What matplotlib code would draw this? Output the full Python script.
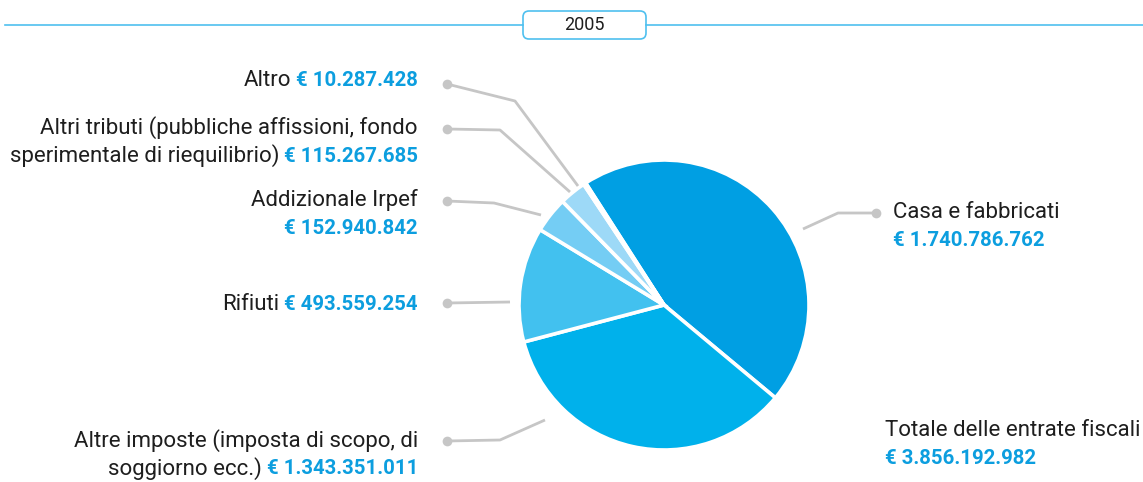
import matplotlib
matplotlib.use("Agg")
import matplotlib.pyplot as plt
from matplotlib.patches import FancyBboxPatch

# Entrate fiscali 2005 (euro)
categories = [
    "Casa e fabbricati",
    "Altre imposte (imposta di scopo, di soggiorno ecc.)",
    "Rifiuti",
    "Addizionale Irpef",
    "Altri tributi (pubbliche affissioni, fondo sperimentale di riequilibrio)",
    "Altro",
]
values = [1740786762, 1343351011, 493559254, 152940842, 115267685, 10287428]
year_label = "2005"
total_label = "Totale delle entrate fiscali"

slice_colors = ["#009FE3", "#00B1EB", "#42C1EF", "#74CDF4", "#9DD9F7", "#C8E9FA"]
value_color = "#0C9EDF"
text_color = "#1E1E1E"
leader_color = "#C6C6C6"
accent = "#4FC0EF"

W, H = 1143, 482


def fmt_euro(v):
    return "€ " + f"{v:,}".replace(",", ".")


def Y(py):
    # pixel rows counted from the top edge
    return H - py


plt.rcParams["font.family"] = ["Roboto", "DejaVu Sans"]

fig = plt.figure(figsize=(W / 100, H / 100), dpi=100)
ax = fig.add_axes([0, 0, 1, 1])

# header rule with year badge
ax.plot([5, 523], [Y(25), Y(25)], color=accent, lw=1.2)
ax.plot([646, W], [Y(25), Y(25)], color=accent, lw=1.2)
badge = FancyBboxPatch((523, Y(39)), 123, 28, boxstyle="round,pad=0,rounding_size=6",
                       fc="white", ec=accent, lw=1.2)
ax.add_patch(badge)
ax.text(584.5, Y(25), year_label, ha="center", va="center", fontsize=13,
        color=text_color)

# pie
start = 90 + 32.7
ax.pie(values, colors=slice_colors, startangle=start, counterclock=False,
       center=(664, Y(305)), radius=145, frame=True,
       wedgeprops=dict(edgecolor="white", linewidth=2.6))
ax.set_xlim(0, W)
ax.set_ylim(0, H)
ax.set_aspect("equal")
ax.axis("off")

fs = 16      # category text
fs_val = 14.7  # bold amounts

# leader lines: (dot, elbow, end) in pixel coordinates
leaders = {
    "Casa e fabbricati": [(876, 213), (838, 213), (803, 229)],
    "Altre imposte (imposta di scopo, di soggiorno ecc.)": [(447, 441), (500, 440), (545, 420)],
    "Rifiuti": [(447, 303), (510, 302)],
    "Addizionale Irpef": [(447, 201), (494, 203), (541, 215)],
    "Altri tributi (pubbliche affissioni, fondo sperimentale di riequilibrio)": [(447, 129), (500, 130), (570, 192)],
    "Altro": [(447, 84), (515, 101), (578, 186)],
}
for pts in leaders.values():
    xs = [p[0] for p in pts]
    ys = [Y(p[1]) for p in pts]
    ax.plot(xs, ys, color=leader_color, lw=2, solid_capstyle="butt", zorder=1)
    ax.plot(xs[0], ys[0], "o", ms=7, color=leader_color, mec="none", zorder=2)


def amount(x, py, v, ha):
    return ax.text(x, Y(py), fmt_euro(v), ha=ha, va="center", fontsize=fs_val,
                   color=value_color, fontweight="bold")


def two_part(x, py, left, v):
    """Regular text followed by the bold blue amount, right-aligned on one line."""
    t = amount(x, py, v, "right")
    fig.canvas.draw()
    bb = t.get_window_extent()
    ax.text(bb.x0 - 5, Y(py), left, ha="right", va="center", fontsize=fs, color=text_color)


val = dict(zip(categories, values))
rx = 418
two_part(rx, 80, "Altro", val["Altro"])
ax.text(rx, Y(128), "Altri tributi (pubbliche affissioni, fondo", ha="right", va="center",
        fontsize=fs, color=text_color)
two_part(rx, 156, "sperimentale di riequilibrio)",
         val["Altri tributi (pubbliche affissioni, fondo sperimentale di riequilibrio)"])
ax.text(rx, Y(200), "Addizionale Irpef", ha="right", va="center", fontsize=fs, color=text_color)
amount(rx, 229, val["Addizionale Irpef"], "right")
two_part(rx, 304, "Rifiuti", val["Rifiuti"])
ax.text(rx, Y(441), "Altre imposte (imposta di scopo, di", ha="right", va="center",
        fontsize=fs, color=text_color)
two_part(rx, 469, "soggiorno ecc.)", val["Altre imposte (imposta di scopo, di soggiorno ecc.)"])

ax.text(893, Y(213), "Casa e fabbricati", ha="left", va="center", fontsize=fs, color=text_color)
amount(893, 241, val["Casa e fabbricati"], "left")

ax.text(885, Y(430), total_label, ha="left", va="center", fontsize=fs, color=text_color)
amount(885, 458, sum(values), "left")

fig.savefig("out.png", dpi=100)
